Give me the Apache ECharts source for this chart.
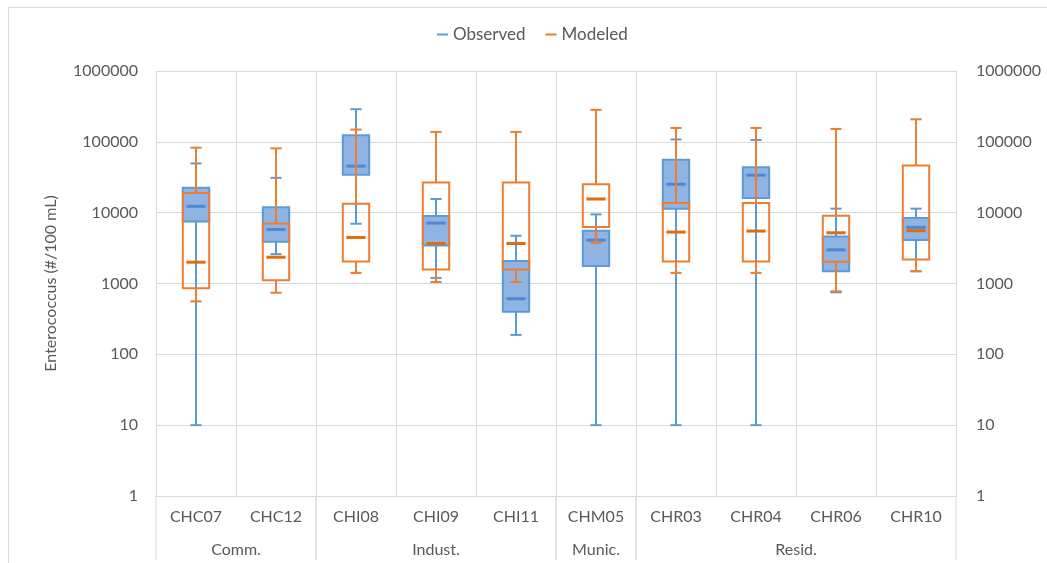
<!DOCTYPE html>
<html>
<head>
<meta charset="utf-8">
<script src="https://cdn.jsdelivr.net/npm/echarts@6/dist/echarts.min.js"></script>
<style>
html,body{margin:0;padding:0;background:#fff;}
#chart{width:1047px;height:563px;}
</style>
</head>
<body>
<div id="chart"></div>
<script>
const categories = ['CHC07','CHC12','CHI08','CHI09','CHI11','CHM05','CHR03','CHR04','CHR06','CHR10'];
const groupNames = ['Comm.','Indust.','Munic.','Resid.'];
const groupStart = [0, 2, 5, 6];
const groupEnd = [1, 4, 5, 9];
const yTicks = [1, 10, 100, 1000, 10000, 100000, 1000000];

const observedMin    = [10,    2600,  6980,   1200,  188,  10,   10,     10,     750,   1490];
const observedQ1     = [7530,  3880,  34300,  3440,  398,  1770, 11400,  16100,  1490,  4100];
const observedMedian = [12300, 5800,  45400,  7130,  609,  4100, 25200,  33800,  2990,  6190];
const observedQ3     = [22400, 11900, 123600, 8980,  2070, 5560, 55900,  43900,  4610,  8410];
const observedMax    = [49500, 31000, 289000, 15600, 4720, 9460, 108000, 106000, 11400, 11400];

const modeledMin    = [559,   741,   1410,   1050,   1050,   3750,   1410,   1410,   775,    1490];
const modeledQ1     = [855,   1110,  2040,   1570,   1570,   6270,   2040,   2040,   2020,   2180];
const modeledMedian = [2000,  2350,  4470,   3670,   3670,   15600,  5320,   5500,   5200,   5560];
const modeledQ3     = [19000, 7060,  13400,  26600,  26600,  25200,  13700,  13700,  9060,   46400];
const modeledMax    = [82800, 80900, 149000, 138000, 138000, 283000, 157000, 157000, 152000, 208000];

function buildData(mn, q1, md, q3, mx) {
  return categories.map((c, i) => [i, mn[i], q1[i], md[i], q3[i], mx[i]]);
}

function boxRenderer(st) {
  return function (params, api) {
    const i = api.value(0);
    const pMin = api.coord([i, api.value(1)]);
    const pQ1 = api.coord([i, api.value(2)]);
    const pMd = api.coord([i, api.value(3)]);
    const pQ3 = api.coord([i, api.value(4)]);
    const pMax = api.coord([i, api.value(5)]);
    const bw = api.coord([1, api.value(3)])[0] - api.coord([0, api.value(3)])[0];
    const cx = pMd[0];
    const half = bw * 0.165;
    const cap = bw * 0.07;
    const med = bw * 0.12;
    const lineStyle = {stroke: st.line, lineWidth: 2};
    return {
      type: 'group',
      children: [
        {type: 'line', shape: {x1: cx, y1: pMax[1], x2: cx, y2: pQ3[1]}, style: lineStyle},
        {type: 'line', shape: {x1: cx, y1: pQ1[1], x2: cx, y2: pMin[1]}, style: lineStyle},
        {type: 'line', shape: {x1: cx - cap, y1: pMax[1], x2: cx + cap, y2: pMax[1]}, style: lineStyle},
        {type: 'line', shape: {x1: cx - cap, y1: pMin[1], x2: cx + cap, y2: pMin[1]}, style: lineStyle},
        {type: 'rect', shape: {x: cx - half, y: pQ3[1], width: half * 2, height: pQ1[1] - pQ3[1]},
          style: {fill: st.fill, stroke: st.line, lineWidth: 2}},
        {type: 'line', shape: {x1: cx - med, y1: pMd[1], x2: cx + med, y2: pMd[1]},
          style: {stroke: st.median, lineWidth: 3}}
      ]
    };
  };
}

function groupRenderer(params, api) {
  const s = api.value(0), e = api.value(1);
  const p0 = api.coord([s, 1]);
  const p1 = api.coord([e, 1]);
  const bw = api.coord([1, 1])[0] - api.coord([0, 1])[0];
  const x0 = p0[0] - bw / 2;
  const x1 = p1[0] + bw / 2;
  const y0 = p0[1];
  const sep = {stroke: '#D9D9D9', lineWidth: 1};
  return {
    type: 'group',
    children: [
      {type: 'line', shape: {x1: x0, y1: y0, x2: x0, y2: y0 + 64}, style: sep},
      {type: 'line', shape: {x1: x1, y1: y0, x2: x1, y2: y0 + 64}, style: sep},
      {type: 'text', x: (x0 + x1) / 2, y: y0 + 54,
        style: {text: groupNames[params.dataIndex], fill: '#595959', font: '16px Lato',
          align: 'center', verticalAlign: 'middle'}}
    ]
  };
}

const chart = echarts.init(document.getElementById('chart'), null, {renderer: 'canvas'});
const axisLabelStyle = {color: '#595959', fontSize: 16, fontFamily: 'Lato'};
chart.setOption({
  animation: false,
  textStyle: {fontFamily: 'Lato'},
  graphic: [
    {type: 'line', shape: {x1: 8, y1: 7.5, x2: 1047, y2: 7.5}, style: {stroke: '#D9D9D9', lineWidth: 1}},
    {type: 'line', shape: {x1: 8.5, y1: 7, x2: 8.5, y2: 563}, style: {stroke: '#D9D9D9', lineWidth: 1}}
  ],
  legend: {
    left: 432, top: 21,
    itemWidth: 11, itemHeight: 2, itemGap: 20,
    textStyle: {color: '#595959', fontSize: 17, fontFamily: 'Lato'},
    data: [{name: 'Observed', icon: 'rect'}, {name: 'Modeled', icon: 'rect'}]
  },
  grid: {left: 156, top: 71, width: 800, height: 425, containLabel: false},
  xAxis: {
    type: 'category',
    data: categories,
    axisLine: {show: true, lineStyle: {color: '#D9D9D9'}},
    axisTick: {show: false},
    axisLabel: Object.assign({margin: 13, interval: 0}, axisLabelStyle),
    splitLine: {show: true, interval: 0, lineStyle: {color: '#D9D9D9'}}
  },
  yAxis: [
    {
      type: 'log', logBase: 10, min: 1, max: 1000000,
      name: 'Enterococcus (#/100 mL)', nameLocation: 'middle', nameRotate: 90, nameGap: 97,
      nameTextStyle: {color: '#595959', fontSize: 16, fontFamily: 'Lato'},
      axisLine: {show: false}, axisTick: {show: false},
      axisLabel: Object.assign({margin: 18, formatter: v => String(Math.round(v))}, axisLabelStyle),
      splitLine: {show: true, lineStyle: {color: '#D9D9D9'}}
    },
    {
      type: 'log', logBase: 10, min: 1, max: 1000000, position: 'right',
      axisLine: {show: false}, axisTick: {show: false},
      axisLabel: Object.assign({margin: 20, formatter: v => String(Math.round(v))}, axisLabelStyle),
      splitLine: {show: false}
    }
  ],
  series: [
    {
      name: 'Observed', type: 'custom',
      itemStyle: {color: '#5B9BD5'},
      encode: {x: 0, y: [1, 2, 3, 4, 5]},
      renderItem: boxRenderer({line: '#5B9BD5', fill: '#8FB4E3', median: '#4F88D0'}),
      data: buildData(observedMin, observedQ1, observedMedian, observedQ3, observedMax),
      z: 2
    },
    {
      name: 'Modeled', type: 'custom',
      itemStyle: {color: '#ED7D31'},
      encode: {x: 0, y: [1, 2, 3, 4, 5]},
      renderItem: boxRenderer({line: '#ED7D31', fill: 'rgba(0,0,0,0)', median: '#E36C09'}),
      data: buildData(modeledMin, modeledQ1, modeledMedian, modeledQ3, modeledMax),
      z: 3
    },
    {
      name: 'groups', type: 'custom', silent: true, clip: false,
      encode: {x: 0, y: 2},
      renderItem: groupRenderer,
      data: groupNames.map((g, i) => [groupStart[i], groupEnd[i], 1]),
      z: 1
    }
  ]
});
</script>
</body>
</html>
